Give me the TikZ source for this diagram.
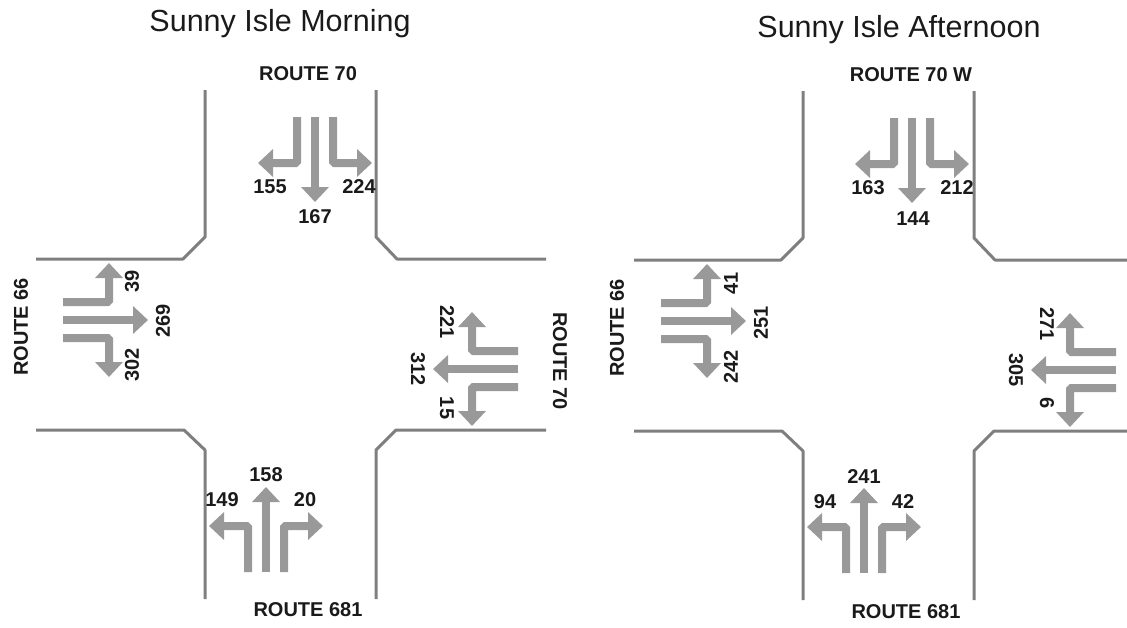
\documentclass[tikz,border=0pt]{standalone}
\usepackage{fontspec}
\setmainfont{Liberation Sans}
\usetikzlibrary{arrows.meta}
\definecolor{roadgrey}{HTML}{7F7F7F}
\definecolor{flowgrey}{HTML}{999999}
\definecolor{inkgrey}{HTML}{1A1A1A}
\tikzset{
  curb/.style={draw=roadgrey, line width=3pt, line join=round},
  flow/.style={draw=flowgrey, line width=8pt, rounded corners=1.5pt,
    -{Triangle[length=15pt,width=27pt]}},
  title/.style={font=\fontsize{30.5}{36}\selectfont, text=inkgrey, inner sep=0pt},
  route/.style={font=\fontsize{20}{24}\selectfont\bfseries, text=inkgrey, inner sep=0pt},
  count/.style={font=\fontsize{20}{24}\selectfont\bfseries, text=inkgrey, inner sep=0pt}
}

\begin{document}
\begin{tikzpicture}[x=1pt, y=-1pt]
  \useasboundingbox (0,0) rectangle (1127,627);
  % titles
  \node[title] (morning) at (280,24) {Sunny Isle Morning};
  \node[title] (afternoon) at (899,30) {Sunny Isle Afternoon};
  % curbs: offset of each intersection
  \foreach \ox/\oy in {0/0, 598/1} {
    \begin{scope}[shift={(\ox,\oy)}]
      \draw[curb] (205,90) -- (205,237) -- (183,259) -- (36,259);
      \draw[curb] (376,90) -- (376,237) -- (397,259) -- (546,259);
      \draw[curb] (36,430) -- (184,430) -- (205,450) -- (205,599);
      \draw[curb] (376,599) -- (376,450) -- (396,430) -- (546,430);
    \end{scope}
  }
  % arrow groups: start of the middle lane, direction
  \foreach \cx/\cy/\dir in {%
    315/117/0, 63/320/90, 518/369/-90, 266/572/180,
    912/118/0, 661/321/90, 1116/370/-90, 864/573/180} {
    \begin{scope}[shift={(\cx,\cy)}, rotate=\dir]
      \draw[flow] (-18,0) -- (-18,46) -- (-57,46);
      \draw[flow] (0,0) -- (0,85);
      \draw[flow] (18,0) -- (18,46) -- (57,46);
    \end{scope}
  }
  % turning counts: x, y, rotation, value
  \foreach \px/\py/\rot/\txt in {%
    270/187/0/155, 359/187/0/224, 315/217/0/167,
    132/281/90/39, 163/321/90/269, 132/365/90/302,
    447/322/-90/221, 418/369/-90/312, 447/408/-90/15,
    222/500/0/149, 266/475/0/158, 305/500/0/20,
    868/188/0/163, 957/188/0/212, 913/219/0/144,
    731/283/90/41, 761/323/90/251, 731/367/90/242,
    1047/324/-90/271, 1016/370/-90/305, 1047/403/-90/6,
    825/502/0/94, 864/477/0/241, 903/502/0/42} {
    \node[count, rotate=\rot] (n\txt) at (\px,\py) {\txt};
  }
  % route names
  \node[route] (morningN) at (308,74) {ROUTE 70};
  \node[route, rotate=90] (morningW) at (21,327) {ROUTE 66};
  \node[route, rotate=-90] (morningE) at (560,361) {ROUTE 70};
  \node[route] (morningS) at (308,610) {ROUTE 681};
  \node[route] (afternoonN) at (911,75) {ROUTE 70 W};
  \node[route, rotate=90] (afternoonW) at (617,328) {ROUTE 66};
  \node[route] (afternoonS) at (906,612) {ROUTE 681};
\end{tikzpicture}
\end{document}
